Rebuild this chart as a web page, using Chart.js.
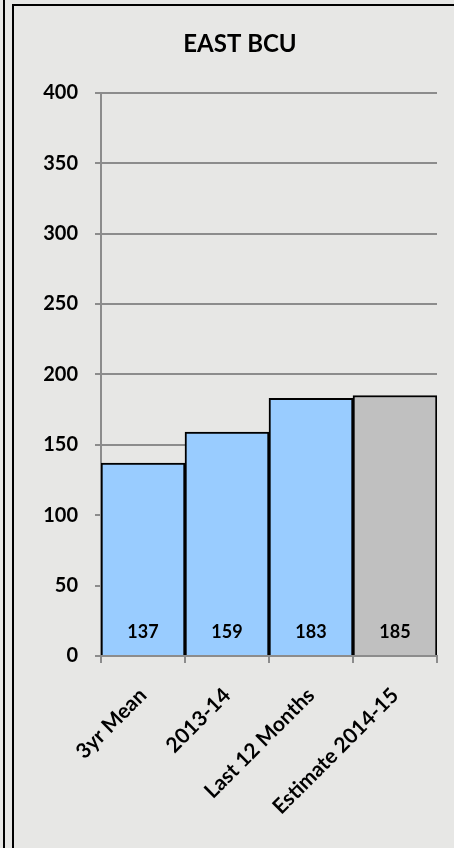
<!DOCTYPE html>
<html>
<head>
<meta charset="utf-8">
<script src="https://cdn.jsdelivr.net/npm/chart.js@4"></script>
<style>
	html, body { margin: 0; padding: 0; overflow: hidden; background: #e7e7e5; }
	canvas { display: block; }
</style>
</head>
<body>
<canvas id="chart-east-bcu" width="454" height="848"></canvas>
<script>
var categories = ["3yr Mean", "2013-14", "Last 12 Months", "Estimate 2014-15"];
var values = [137, 159, 183, 185];
var barColours = ["#99ccff", "#99ccff", "#99ccff", "#c0c0c0"];
var yTicks = [0, 50, 100, 150, 200, 250, 300, 350, 400];

var gridGrey = "#8c8c8c";

// grey page with the two black frame lines on the left and top
var pageFrame = {
	id: "pageFrame",
	beforeDraw: function(chart)
	{
		var ctx = chart.ctx;
		ctx.save();
		ctx.fillStyle = "#e7e7e5";
		ctx.fillRect(0, 0, chart.width, chart.height);
		ctx.fillStyle = "#000";
		ctx.fillRect(3, 0, 2, chart.height);
		ctx.fillRect(12, 4, 2, chart.height - 4);
		ctx.fillRect(12, 4, chart.width - 12, 2);
		ctx.restore();
	}
};

// values written at the foot of every bar
var valueLabels = {
	id: "valueLabels",
	afterDatasetsDraw: function(chart)
	{
		var ctx = chart.ctx;
		var meta = chart.getDatasetMeta(0);
		var base = chart.scales.y.getPixelForValue(0);
		ctx.save();
		ctx.font = "bold 18px Lato";
		ctx.fillStyle = "#000";
		ctx.textAlign = "center";
		ctx.textBaseline = "middle";
		meta.data.forEach(function(bar, i)
		{
			ctx.fillText(values[i], bar.x, base - 24);
		});
		ctx.restore();
	}
};

new Chart("chart-east-bcu", {
	type: "bar",
	data: {
		labels: categories,
		datasets: [{
			data: values,
			backgroundColor: barColours,
			borderColor: "#000",
			borderWidth: 2,
			barPercentage: 1,
			categoryPercentage: 1
		}]
	},
	options: {
		responsive: false,
		animation: false,
		layout: { padding: { left: 43, right: 17, top: 0, bottom: 0 } },
		plugins: {
			legend: { display: false },
			tooltip: { enabled: false },
			title: {
				display: true,
				text: "EAST BCU",
				color: "#000",
				font: { family: "Lato", size: 24, weight: "bold" },
				padding: { top: 30, bottom: 34 }
			}
		},
		scales: {
			x: {
				grid: { drawOnChartArea: false, drawTicks: true, tickLength: 7, color: gridGrey, lineWidth: 2 },
				border: { color: gridGrey, width: 2 },
				ticks: {
					color: "#000",
					font: { family: "Lato", size: 21, weight: "bold" },
					minRotation: 45,
					maxRotation: 45,
					padding: 20
				},
				afterFit: function(scale) { scale.height = 192; }
			},
			y: {
				min: 0,
				max: 400,
				afterBuildTicks: function(scale) { scale.ticks = yTicks.map(function(v) { return { value: v }; }); },
				grid: { color: gridGrey, lineWidth: 2, tickLength: 6 },
				border: { color: gridGrey, width: 2 },
				ticks: {
					color: "#000",
					font: { family: "Lato", size: 20, weight: "bold" },
					padding: 17
				},
				afterFit: function(scale) { scale.width = 58; }
			}
		}
	},
	plugins: [pageFrame, valueLabels]
});
</script>
</body>
</html>
